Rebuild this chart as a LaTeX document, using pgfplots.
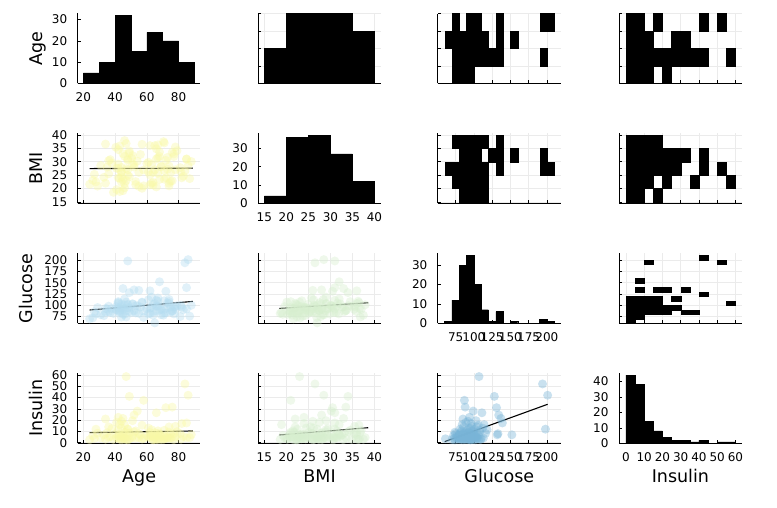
\documentclass[border=0pt]{standalone}
\usepackage{fontspec}
\setmainfont{DejaVu Sans}
\usepackage{pgfplots}
\usepackage{pgfplotstable}
\pgfplotsset{compat=1.18}

\definecolor{cY}{RGB}{248,248,165}
\definecolor{cB1}{RGB}{180,220,240}
\definecolor{cG}{RGB}{214,238,206}
\definecolor{cB2}{RGB}{120,180,215}

% Age BMI Glucose Insulin (116 records)
\pgfplotstableread{
age bmi glu ins
65 27.0 61 3.5
86 28.5 201 42
84 26.5 194 52
48 31.0 198 12
68 32.0 152 7
62 36.0 132 7
85 31.0 139 17.5
52 28.0 134 24.5
45 33.0 137 21.5
72 30.5 131 31
49 34.0 128 41
66 31.0 111 26.5
47 23.0 107 58.5
58 21.0 87 37.5
76 33.5 88 31.5
54 30.2 99 28
55 26.0 133 8
42 24.0 94 22.5
34 22.0 85 21
44 26.0 92 19
51 29.0 103 19.5
46 32.0 114 16
82 24.0 96 17
43 18.9 84 16
57 36.5 106 15.5
41 27.5 89 18
63 29.0 118 11.5
28 22.5 81 12
36 25.5 86 14
71 37.0 91 11
44 24.5 95 13
67 31.5 98 10.5
48 27.0 101 12
74 22.0 104 14
42 34.5 108 11
61 26.2 112 13
38 29.5 93 12.5
53 21.5 83 10.5
78 35.5 97 14.5
26 23.1 72 6.2
81 27.8 75 8.1
64 21.3 78 5.4
47 36.8 74 9.3
33 24.2 77 7.0
69 28.3 79 5.9
45 19.2 80 6.5
62 25.1 82 9.1
37 30.8 84 5.2
75 22.7 85 7.8
49 33.2 86 8.6
66 20.6 87 6.0
52 28.9 88 9.6
71 26.7 83 5.7
43 23.8 89 7.3
77 31.9 81 8.0
83 24.6 90 5.5
40.5 35.4 91 7.9
60 29.3 92 6.3
46 21.8 93 9.2
73 27.2 94 5.1
29 20.9 95 8.4
56 32.7 96 6.9
68 23.4 97 7.5
44 26.4 98 5.8
79 34.1 99 9.8
35 28.0 92 8.8
63 22.1 95 6.1
88 30.1 100 7.2
48 24.9 102 5.3
65 36.0 104 8.9
42 27.6 106 6.6
74 21.0 108 9.4
51 32.3 103 5.9
67 25.7 116 8.3
24 21.6 70 2.7
58 26.9 73 3.9
87 23.7 76 4.5
70.5 37.5 78 3.1
44 22.4 74 2.5
31 28.6 79 4.2
46 20.3 80 3.3
61 29.8 81 4.8
39 18.6 82 2.9
72 24.0 83 3.7
50.5 31.3 84 4.4
64 26.0 85 2.6
43 35.9 86 3.5
76 22.9 87 4.9
47 27.4 88 3.0
68 33.6 89 4.1
27 25.3 85 3.8
55 20.8 82 4.6
45 23.2 90 3.6
69 28.1 91 2.8
85 31.0 92 4.3
34 36.6 93 3.2
62 21.4 94 4.7
48 30.6 95 2.5
75 25.9 96 3.9
41 19.6 97 4.4
66 34.8 98 3.0
53 22.6 99 4.0
78 27.0 91 4.9
49 24.4 94 3.4
77 32.9 96 2.7
36 30.4 98 4.6
81.5 26.3 100 3.1
46 37.9 101 4.5
64 22.3 102 2.6
42 29.1 104 3.8
73 31.6 105 4.2
57 20.1 107 3.3
67 36.3 109 2.9
44 27.9 103 4.8
71 23.5 110 3.5
74 28.4 113 4.1
}\data

\pgfplotsset{
  base/.style={scale only axis, width=122.8pt, height=70pt, anchor=south west,
    axis lines*=left, axis line style={line width=0.9pt, black},
    tick align=inside, major tick length=3pt, tick style={line width=0.6pt, black},
    tick label style={font=\fontsize{12}{12}\selectfont, black},
    xticklabel style={yshift=-6pt}, yticklabel style={xshift=-7pt},
    /pgf/number format/assume math mode=true,
    every axis x label/.style={at={(axis description cs:0.5,-0.567)}, anchor=base, font=\fontsize{17.5}{17.5}\selectfont},
    every axis y label/.style={at={(axis description cs:-0.29,0.5)}, rotate=90, anchor=base, font=\fontsize{17.5}{17.5}\selectfont},
  },
  gridded/.style={grid=major, grid style={line width=0.5pt, black!8}},
  colAge/.style={xmin=16.5, xmax=93.8, xtick={20,40,60,80}},
  colBMI/.style={xmin=13.6, xmax=41.5, xtick={15,20,25,30,35,40}},
  colGlu/.style={xmin=50.7, xmax=218.9, xtick={75,100,125,150,175,200}},
  colIns/.style={xmin=-3.8, xmax=63.5, xtick={0,10,20,30,40,50,60}},
  rowAge/.style={ymin=20, ymax=100, ytick={20,40,60,80,100}},
  rowBMI/.style={ymin=14.5, ymax=40.6, ytick={15,20,25,30,35,40}},
  rowGlu/.style={ymin=60.1, ymax=215, ytick={75,100,125,150,175,200}},
  rowIns/.style={ymin=-0.5, ymax=61.4, ytick={0,10,20,30,40,50,60}},
  nox/.style={xticklabels={}}, noy/.style={yticklabels={}},
  cell/.style={fill=black, draw=black, line width=0.2pt, mark=none},
  bars/.style={ybar interval, fill=black, draw=black, line width=0.4pt, mark=none},
  pts/.style={only marks, mark=*, mark size=4.5pt, color=#1, draw opacity=0,
    mark options={draw=none, draw opacity=0, line width=0pt, fill=#1, fill opacity=0.4}},
  reg/.style={black, line width=1.1pt, mark=none},
}
% cell: x from #1 to #2, y from #3 to #4
\newcommand{\cellr}[4]{\addplot[cell] coordinates {(#1,#3) (#2,#3) (#2,#4) (#1,#4)} -- cycle;}

\begin{document}
\begin{tikzpicture}[x=1pt,y=1pt]
\path[use as bounding box] (0,0) rectangle (777,507);

% ---------------- Row 1 : Age ----------------
\begin{axis}[base, at={(77.7pt,423.5pt)}, colAge, ymin=0, ymax=32.8, ytick={0,10,20,30}, ylabel={Age}]
\addplot[bars] coordinates {(20,5) (30,10) (40,32) (50,15) (60,24) (70,20) (80,10) (90,10)};
\end{axis}

\begin{axis}[base, gridded, at={(258.2pt,423.5pt)}, colBMI, rowAge, nox, noy]
\cellr{15}{20}{20}{60}
\cellr{20}{35}{20}{100}
\cellr{35}{40}{20}{80}
\end{axis}

\begin{axis}[base, gridded, at={(437.9pt,423.5pt)}, colGlu, rowAge, nox, noy]
\cellr{70}{80}{80}{100}
\cellr{90}{110}{80}{100}
\cellr{130}{140}{80}{100}
\cellr{190}{210}{80}{100}
\cellr{60}{120}{60}{80}
\cellr{130}{140}{60}{80}
\cellr{150}{160}{60}{80}
\cellr{70}{140}{40}{60}
\cellr{190}{200}{40}{60}
\cellr{70}{100}{20}{40}
\end{axis}

\begin{axis}[base, gridded, at={(619pt,423.5pt)}, colIns, rowAge, nox, noy]
\cellr{0}{10}{80}{100}
\cellr{15}{20}{80}{100}
\cellr{40}{45}{80}{100}
\cellr{50}{55}{80}{100}
\cellr{0}{15}{60}{80}
\cellr{25}{35}{60}{80}
\cellr{0}{45}{40}{60}
\cellr{55}{60}{40}{60}
\cellr{0}{15}{20}{40}
\cellr{20}{25}{20}{40}
\end{axis}

% ---------------- Row 2 : BMI ----------------
\begin{axis}[base, gridded, at={(77.7pt,303.7pt)}, colAge, rowBMI, nox, ylabel={BMI}]
\addplot[pts=cY] table[x=age, y=bmi] {\data};
\addplot[reg] coordinates {(24,27.45) (89,27.6)};
\end{axis}

\begin{axis}[base, at={(258.2pt,303.7pt)}, colBMI, ymin=0, ymax=38.3, ytick={0,10,20,30}]
\addplot[bars] coordinates {(15,4) (20,36) (25,37) (30,27) (35,12) (40,12)};
\end{axis}

\begin{axis}[base, gridded, at={(437.9pt,303.7pt)}, colGlu, rowBMI, nox, noy]
\cellr{70}{120}{35}{40}
\cellr{130}{140}{35}{40}
\cellr{80}{110}{30}{35}
\cellr{120}{140}{30}{35}
\cellr{150}{160}{30}{35}
\cellr{190}{200}{30}{35}
\cellr{60}{120}{25}{30}
\cellr{130}{140}{25}{30}
\cellr{190}{210}{25}{30}
\cellr{70}{120}{20}{25}
\cellr{80}{120}{15}{20}
\end{axis}

\begin{axis}[base, gridded, at={(619pt,303.7pt)}, colIns, rowBMI, nox, noy]
\cellr{0}{20}{35}{40}
\cellr{0}{35}{30}{35}
\cellr{40}{45}{30}{35}
\cellr{0}{30}{25}{30}
\cellr{40}{45}{25}{30}
\cellr{50}{55}{25}{30}
\cellr{0}{15}{20}{25}
\cellr{20}{25}{20}{25}
\cellr{35}{40}{20}{25}
\cellr{55}{60}{20}{25}
\cellr{0}{10}{15}{20}
\cellr{15}{20}{15}{20}
\end{axis}

% ---------------- Row 3 : Glucose ----------------
\begin{axis}[base, gridded, at={(77.7pt,183.7pt)}, colAge, rowGlu, nox, ylabel={Glucose}, ylabel style={at={(axis description cs:-0.365,0.5)}}]
\addplot[pts=cB1] table[x=age, y=glu] {\data};
\addplot[reg] coordinates {(24,89.5) (89,108.5)};
\end{axis}

\begin{axis}[base, gridded, at={(258.2pt,183.7pt)}, colBMI, rowGlu, nox, noy]
\addplot[pts=cG] table[x=bmi, y=glu] {\data};
\addplot[reg] coordinates {(18.4,93) (38.6,105.5)};
\end{axis}

\begin{axis}[base, at={(437.9pt,183.7pt)}, colGlu, ymin=0, ymax=36.1, ytick={0,10,20,30}]
\addplot[bars] coordinates {(60,1) (70,12) (80,30) (90,35) (100,20) (110,7) (120,1) (130,6) (140,0) (150,1) (160,0) (170,0) (180,0) (190,2) (200,1) (210,1)};
\end{axis}

\begin{axis}[base, gridded, at={(619pt,183.7pt)}, colIns, rowGlu, nox, noy]
\cellr{40}{45}{200}{210}
\cellr{10}{15}{190}{200}
\cellr{50}{55}{190}{200}
\cellr{5}{10}{150}{160}
\cellr{5}{10}{130}{140}
\cellr{15}{25}{130}{140}
\cellr{30}{35}{130}{140}
\cellr{40}{45}{120}{130}
\cellr{0}{20}{110}{120}
\cellr{25}{30}{110}{120}
\cellr{0}{20}{100}{110}
\cellr{55}{60}{100}{110}
\cellr{0}{30}{90}{100}
\cellr{0}{25}{80}{90}
\cellr{30}{40}{80}{90}
\cellr{0}{10}{70}{80}
\cellr{0}{5}{60}{70}
\end{axis}

% ---------------- Row 4 : Insulin ----------------
\begin{axis}[base, gridded, at={(77.7pt,63.7pt)}, colAge, rowIns, xlabel={Age}, ylabel={Insulin}]
\addplot[pts=cY] table[x=age, y=ins] {\data};
\addplot[reg] coordinates {(24,8.9) (89,10.4)};
\end{axis}

\begin{axis}[base, gridded, at={(258.2pt,63.7pt)}, colBMI, rowIns, noy, xlabel={BMI}]
\addplot[pts=cG] table[x=bmi, y=ins] {\data};
\addplot[reg] coordinates {(18.4,6.8) (38.6,13.3)};
\end{axis}

\begin{axis}[base, gridded, at={(437.9pt,63.7pt)}, colGlu, rowIns, noy, xlabel={Glucose}]
\addplot[pts=cB2] table[x=glu, y=ins] {\data};
\addplot[reg] coordinates {(60,1) (201,34)};
\end{axis}

\begin{axis}[base, at={(619pt,63.7pt)}, colIns, ymin=0, ymax=45.2, ytick={0,10,20,30,40}, xlabel={Insulin}]
\addplot[bars] coordinates {(0,44) (5,38) (10,14) (15,8) (20,4) (25,2) (30,2) (35,1) (40,2) (45,0) (50,1) (55,1) (60,1)};
\end{axis}

\end{tikzpicture}
\end{document}
